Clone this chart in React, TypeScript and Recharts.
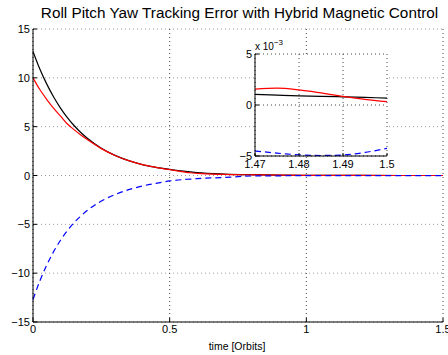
import React from 'react'
import { LineChart, Line, XAxis, YAxis, CartesianGrid } from 'recharts'

// attitude error over the first 1.5 orbits
const time = [
  0, 0.025, 0.05, 0.075, 0.1, 0.125, 0.15, 0.175, 0.2, 0.25, 0.3, 0.35, 0.4,
  0.45, 0.5, 0.55, 0.575, 0.6, 0.7, 0.8, 0.9, 1.0, 1.2, 1.5,
]
const roll = [
  12.7, 10.9, 9.38, 8.06, 6.93, 5.95, 5.12, 4.4, 3.78, 2.79, 2.06, 1.52, 1.12,
  0.84, 0.63, 0.45, 0.37, 0.3, 0.15, 0.08, 0.04, 0.02, 0.005, 0.00068,
]
const pitch = [
  10.0, 8.8, 7.8, 6.9, 6.1, 5.3, 4.7, 4.15, 3.65, 2.75, 2.05, 1.52, 1.12, 0.84,
  0.6, 0.38, 0.28, 0.22, 0.11, 0.07, 0.04, 0.02, 0.005, 0.00033,
]
const yaw = [
  -12.7, -10.8, -9.19, -7.82, -6.66, -5.67, -4.83, -4.15, -3.55, -2.62, -1.95,
  -1.45, -1.08, -0.8, -0.56, -0.42, -0.37, -0.32, -0.2, -0.05, -0.03, -0.015,
  -0.008, -0.00425,
]
const xTicks = [0, 0.5, 1, 1.5]
const yTicks = [-15, -10, -5, 0, 5, 10, 15]

// zoomed view of the last 0.03 orbit
const zoomTime = [1.47, 1.475, 1.48, 1.485, 1.49, 1.495, 1.5]
const zoomRoll = [0.00105, 0.00097, 0.0009, 0.00085, 0.0008, 0.00074, 0.00068]
const zoomPitch = [0.00155, 0.00165, 0.00148, 0.00118, 0.00084, 0.00056, 0.00033]
const zoomYaw = [-0.0045, -0.00472, -0.00488, -0.00495, -0.0049, -0.00465, -0.00425]
const zoomXTicks = [1.47, 1.48, 1.49, 1.5]
const zoomYTicks = [-0.005, 0, 0.005]

const mainData = time.map((t, i) => ({ t, roll: roll[i], pitch: pitch[i], yaw: yaw[i] }))
const zoomData = zoomTime.map((t, i) => ({
  t,
  roll: zoomRoll[i],
  pitch: zoomPitch[i],
  yaw: zoomYaw[i],
}))

const FONT = '"Liberation Sans", Arial, Helvetica, sans-serif'

const fmt = (v: number) => (v < 0 ? `\u2212${Math.abs(v)}` : `${v}`)

const BottomTick = (props: any) => {
  const { x, y, payload } = props
  return (
    <g>
      <line x1={x} x2={x} y1={y} y2={y - 4} stroke='#000' />
      <text x={x} y={y + 11} textAnchor='middle' fontSize={11} fill='#000' fontFamily={FONT}>
        {fmt(payload.value)}
      </text>
    </g>
  )
}

const TopTick = (props: any) => {
  const { x, y } = props
  return <line x1={x} x2={x} y1={y} y2={y + 4} stroke='#000' />
}

const LeftTick = (props: any) => {
  const { x, y, payload, scale = 1 } = props
  return (
    <g>
      <line x1={x} x2={x + 4} y1={y} y2={y} stroke='#000' />
      <text x={x - 3} y={y + 4} textAnchor='end' fontSize={11} fill='#000' fontFamily={FONT}>
        {fmt(Math.round(payload.value * scale))}
      </text>
    </g>
  )
}

const RightTick = (props: any) => {
  const { x, y } = props
  return <line x1={x} x2={x - 4} y1={y} y2={y} stroke='#000' />
}

const ZoomBottomTick = (props: any) => {
  const { x, y, payload } = props
  return (
    <g>
      <line x1={x} x2={x} y1={y} y2={y - 3} stroke='#000' />
      <text x={x} y={y + 12} textAnchor='middle' fontSize={11} fill='#000' fontFamily={FONT}>
        {payload.value.toFixed(payload.value === 1.5 ? 1 : 2)}
      </text>
    </g>
  )
}

const MainChart = () => (
  <LineChart
    width={448}
    height={355}
    data={mainData}
    margin={{ top: 29, right: 5, bottom: 0, left: 0 }}
  >
    <CartesianGrid
      horizontal
      vertical={false}
      stroke='#999'
      strokeDasharray='1 3'
    />
    <CartesianGrid
      horizontal={false}
      vertical
      stroke='#444'
      strokeDasharray='1 3'
    />
    <XAxis
      dataKey='t'
      type='number'
      domain={[0, 1.5]}
      ticks={xTicks}
      interval={0}
      height={33}
      tickSize={0}
      tickMargin={0}
      tickLine={false}
      axisLine={{ stroke: '#000' }}
      tick={BottomTick}
    />
    <XAxis
      xAxisId='top'
      orientation='top'
      dataKey='t'
      type='number'
      domain={[0, 1.5]}
      ticks={xTicks}
      interval={0}
      height={0}
      tickSize={0}
      tickLine={false}
      axisLine={{ stroke: '#000' }}
      tick={TopTick}
    />
    <YAxis
      type='number'
      domain={[-15, 15]}
      ticks={yTicks}
      interval={0}
      width={33}
      tickSize={0}
      tickMargin={0}
      tickLine={false}
      axisLine={{ stroke: '#000' }}
      tick={LeftTick}
    />
    <YAxis
      yAxisId='right'
      orientation='right'
      type='number'
      domain={[-15, 15]}
      ticks={yTicks}
      interval={0}
      width={0}
      tickSize={0}
      tickLine={false}
      axisLine={{ stroke: '#000' }}
      tick={RightTick}
    />
    <Line type='monotone' dataKey='roll' stroke='#000' strokeWidth={1.2} dot={false} isAnimationActive={false} />
    <Line type='monotone' dataKey='pitch' stroke='#f00' strokeWidth={1.2} dot={false} isAnimationActive={false} />
    <Line
      type='monotone'
      dataKey='yaw'
      stroke='#00f'
      strokeWidth={1.2}
      strokeDasharray='6 4'
      dot={false}
      isAnimationActive={false}
    />
  </LineChart>
)

const ZoomChart = () => (
  <LineChart
    width={170}
    height={135}
    data={zoomData}
    margin={{ top: 14, right: 13, bottom: 0, left: 0 }}
  >
    <CartesianGrid fill='#fff' stroke='#444' strokeDasharray='1 3' />
    <XAxis
      dataKey='t'
      type='number'
      domain={[1.47, 1.5]}
      ticks={zoomXTicks}
      interval={0}
      height={19}
      tickSize={0}
      tickMargin={0}
      tickLine={false}
      axisLine={{ stroke: '#000' }}
      tick={ZoomBottomTick}
    />
    <XAxis
      xAxisId='top'
      orientation='top'
      dataKey='t'
      type='number'
      domain={[1.47, 1.5]}
      ticks={zoomXTicks}
      interval={0}
      height={0}
      tickSize={0}
      tickLine={false}
      axisLine={{ stroke: '#000' }}
      tick={TopTick}
    />
    <YAxis
      type='number'
      domain={[-0.005, 0.005]}
      ticks={zoomYTicks}
      interval={0}
      allowDataOverflow
      width={25}
      tickSize={0}
      tickMargin={0}
      tickLine={false}
      axisLine={{ stroke: '#000' }}
      tick={(p: any) => <LeftTick {...p} scale={1000} />}
    />
    <YAxis
      yAxisId='right'
      orientation='right'
      type='number'
      domain={[-0.005, 0.005]}
      ticks={zoomYTicks}
      interval={0}
      width={0}
      tickSize={0}
      tickLine={false}
      axisLine={{ stroke: '#000' }}
      tick={RightTick}
    />
    <Line type='monotone' dataKey='roll' stroke='#000' strokeWidth={1.2} dot={false} isAnimationActive={false} />
    <Line type='monotone' dataKey='pitch' stroke='#f00' strokeWidth={1.2} dot={false} isAnimationActive={false} />
    <Line
      type='monotone'
      dataKey='yaw'
      stroke='#00f'
      strokeWidth={1.2}
      strokeDasharray='6 4'
      dot={false}
      isAnimationActive={false}
    />
  </LineChart>
)

export default function App() {
  return (
    <div style={{ position: 'absolute', left: 0, top: 0, width: 448, height: 355, background: '#fff', overflow: 'hidden' }}>
      <MainChart />
      <div style={{ position: 'absolute', left: 230, top: 40 }}>
        <ZoomChart />
      </div>
      <svg
        width={448}
        height={355}
        style={{ position: 'absolute', left: 0, top: 0, pointerEvents: 'none' }}
        fontFamily={FONT}
      >
        <text x={239.5} y={18} textAnchor='middle' fontSize={15.3} fill='#000'>
          Roll Pitch Yaw Tracking Error with Hybrid Magnetic Control
        </text>
        <text x={237} y={350} textAnchor='middle' fontSize={10.5} fill='#000'>
          time [Orbits]
        </text>
        <text x={255} y={50} fontSize={10} fill='#000'>
          x 10
          <tspan dy={-5} fontSize={8}>{'\u22123'}</tspan>
        </text>
      </svg>
    </div>
  )
}
